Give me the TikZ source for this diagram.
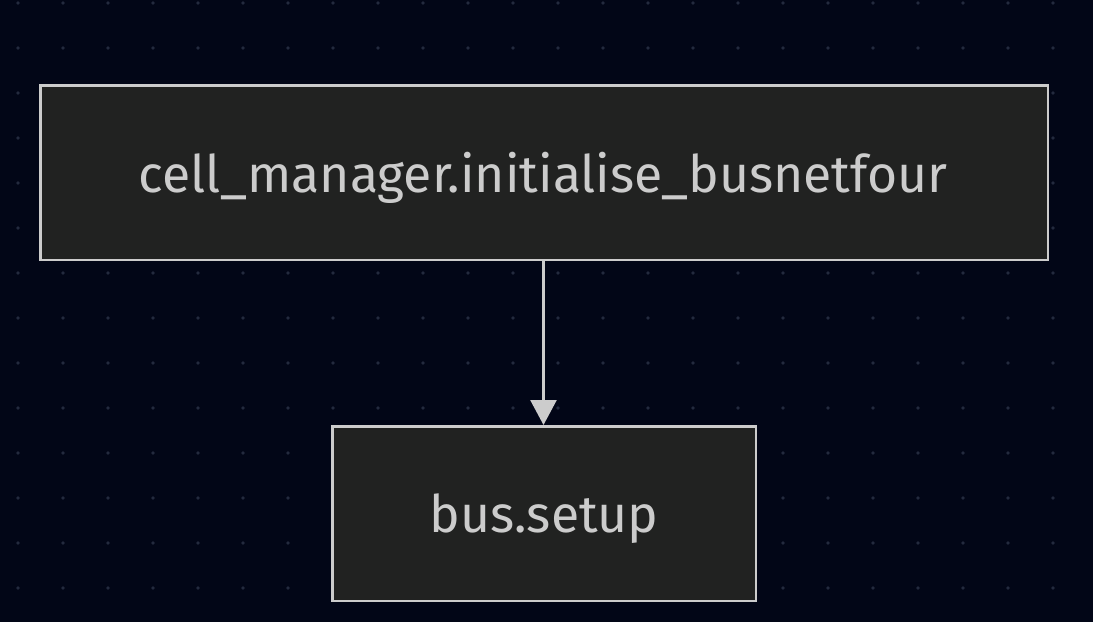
\documentclass[tikz,border=0pt]{standalone}
\usepackage{fontspec}
\setmainfont{Fira Sans}
\usetikzlibrary{arrows.meta}
\definecolor{bg}{HTML}{020617}
\definecolor{dotc}{HTML}{232A3E}
\definecolor{boxfill}{HTML}{212221}
\definecolor{linec}{HTML}{CCCCCC}
\tikzset{
  box/.style={draw=linec, line width=2.5pt, fill=boxfill, inner sep=0pt, minimum height=174.5pt},
  lbl/.style={text=linec, font=\fontsize{51.7}{60}\selectfont},
  conn/.style={draw=linec, line width=2.5pt, -{Triangle[length=25pt,width=26pt]}}
}
\begin{document}
\begin{tikzpicture}[x=1pt,y=-1pt]
\fill[bg] (0,0) rectangle (1093,622);
\useasboundingbox (0,0) rectangle (1093,622);
\foreach \i in {0,...,24}{
  \foreach \j in {0,...,13}{
    \fill[dotc] (18+45*\i,3+45*\j) circle (1.8pt);
  }
}
\node[box, minimum width=1007.5pt] (a) at (544,172.5) {};
\node[lbl] (at) at (543,178) {cell\_manager.initialise\_busnetfour};
\node[box, minimum width=423.5pt] (b) at (544,513.5) {};
\node[lbl] (bt) at (544,519) {bus.setup};
\draw[conn] (a.south -| 543.5,0) -- (b.north -| 543.5,0);
\end{tikzpicture}
\end{document}
